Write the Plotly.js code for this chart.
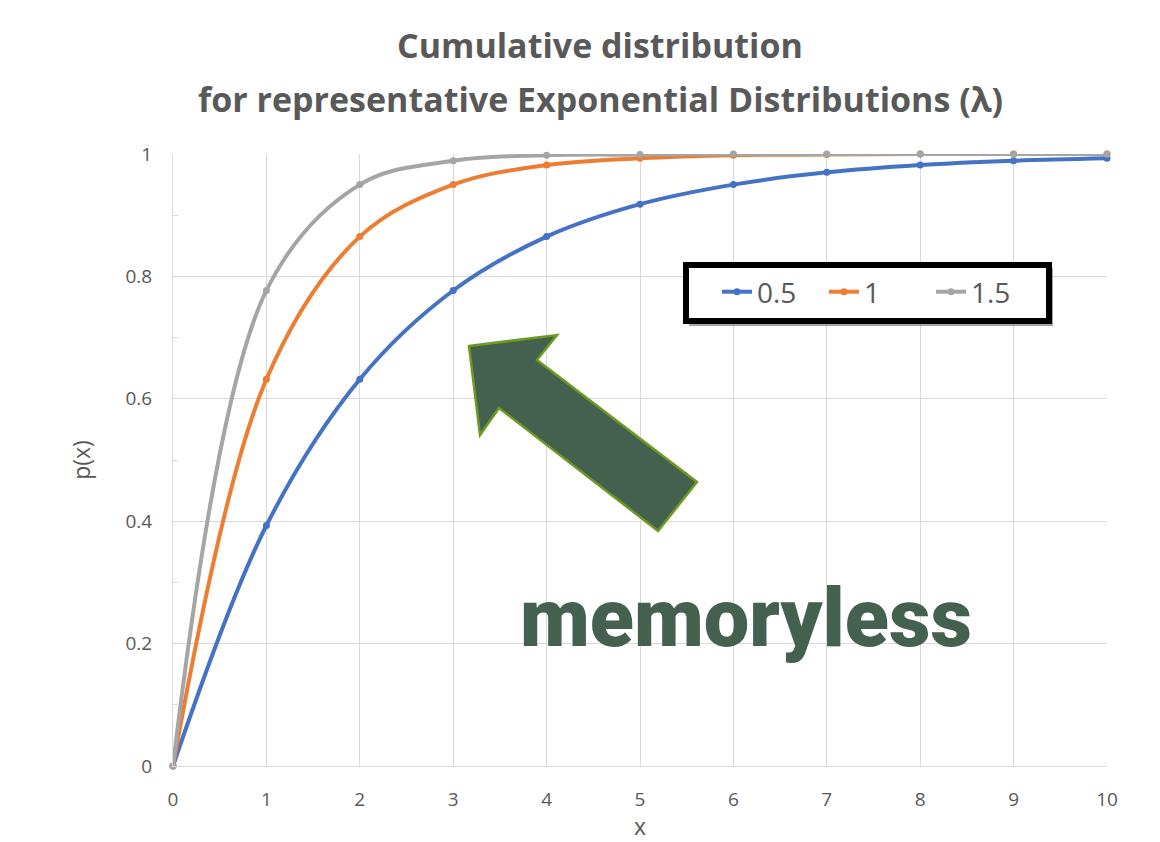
<!DOCTYPE html>
<html>
<head>
<meta charset="utf-8">
<script src="https://cdn.plot.ly/plotly-3.0.1.min.js"></script>
<style>html,body{margin:0;padding:0;background:#fff;}#chart{width:1160px;height:842px;}</style>
</head>
<body>
<div id="chart"></div>
<script>
const xValues = [0, 1, 2, 3, 4, 5, 6, 7, 8, 9, 10];
const seriesNames = ["0.5", "1", "1.5"];
const lambda05 = [0, 0.393, 0.632, 0.777, 0.865, 0.918, 0.950, 0.970, 0.982, 0.989, 0.993];
const lambda1 = [0, 0.632, 0.865, 0.950, 0.982, 0.993, 0.998, 0.999, 1.0, 1.0, 1.0];
const lambda15 = [0, 0.777, 0.950, 0.989, 0.998, 0.999, 1.0, 1.0, 1.0, 1.0, 1.0];
const seriesColors = ["#4472C4", "#ED7D31", "#A5A5A5"];
const xTicks = [0, 1, 2, 3, 4, 5, 6, 7, 8, 9, 10];
const yTicks = [0, 0.2, 0.4, 0.6, 0.8, 1];
const yTickLabels = ["0", "0.2", "0.4", "0.6", "0.8", "1"];
const titleLines = ["Cumulative distribution", "for representative Exponential Distributions (λ)"];

const series = [lambda05, lambda1, lambda15];
const traces = series.map((ys, i) => ({
  x: xValues, y: ys, name: seriesNames[i], type: 'scatter', mode: 'lines+markers',
  line: {color: seriesColors[i], width: 4, shape: 'spline', smoothing: 1},
  marker: {color: seriesColors[i], size: 7},
  cliponaxis: false
}));

// plot area in pixels: left 173, right 1107, top 154, bottom 766
const W = 1160, H = 842, L = 173, R = 1107, T = 154, B = 766;
const px = v => (v - L) / (R - L);
const py = v => (B - v) / (B - T);

// arrow outline
const arrowPix = [[469,346],[557,335],[537,360],[697,482],[658,531],[499,408],[480,435]];
const arrowPath = 'M' + arrowPix.map(p => px(p[0]).toFixed(4) + ',' + py(p[1]).toFixed(4)).join(' L') + ' Z';

const layout = {
  width: W, height: H,
  margin: {l: L, r: W - R, t: T, b: H - B},
  paper_bgcolor: '#fff', plot_bgcolor: '#fff',
  showlegend: true,
  font: {family: 'Open Sans', color: '#595959'},
  xaxis: {
    range: [0, 10], tickvals: xTicks, ticktext: xTicks.map(String),
    showgrid: true, gridcolor: '#D9D9D9', gridwidth: 1,
    zeroline: false, showline: true, linecolor: '#D9D9D9', linewidth: 1,
    ticks: '', tickfont: {size: 19, color: '#595959'}, ticklabelstandoff: 16,
    title: {text: 'x', font: {size: 23, color: '#595959'}, standoff: 12},
    fixedrange: true
  },
  yaxis: {
    range: [0, 1], tickvals: yTicks, ticktext: yTickLabels,
    showgrid: true, gridcolor: '#D9D9D9', gridwidth: 1,
    zeroline: false, showline: true, linecolor: '#D9D9D9', linewidth: 1,
    ticks: 'inside', ticklen: 5, tickcolor: '#D9D9D9',
    minor: {dtick: 0.1, ticks: 'inside', ticklen: 5, tickcolor: '#D9D9D9', showgrid: false},
    tickfont: {size: 19, color: '#595959'}, ticklabelstandoff: 16,
    title: {text: 'p(x)', font: {size: 23, color: '#595959'}, standoff: 28},
    fixedrange: true
  },
  legend: {
    orientation: 'h', x: px(717), y: py(292), xanchor: 'left', yanchor: 'middle',
    bgcolor: 'rgba(0,0,0,0)', borderwidth: 0, entrywidth: 62,
    font: {size: 28, color: '#595959'}
  },
  shapes: [
    {type: 'path', path: arrowPath, xref: 'paper', yref: 'paper',
     fillcolor: '#44604F', line: {color: '#6E9A22', width: 2.5}, layer: 'above'},
    {type: 'rect', xref: 'paper', yref: 'paper', x0: px(689), x1: px(1053), y0: py(268), y1: py(326),
     fillcolor: 'rgba(0,0,0,0.35)', line: {width: 0}, layer: 'above'},
    {type: 'rect', xref: 'paper', yref: 'paper', x0: px(686), x1: px(1049), y0: py(265), y1: py(321),
     fillcolor: '#ffffff', line: {color: '#000000', width: 6}, layer: 'above'}
  ],
  annotations: [
    {text: '<b>' + titleLines[0] + '</b>', xref: 'paper', yref: 'paper', x: px(600), y: py(45),
     xanchor: 'center', yanchor: 'middle', showarrow: false,
     font: {family: 'Open Sans', size: 34, color: '#595959'}},
    {text: '<b>' + titleLines[1] + '</b>', xref: 'paper', yref: 'paper', x: px(600), y: py(99),
     xanchor: 'center', yanchor: 'middle', showarrow: false,
     font: {family: 'Open Sans', size: 34, color: '#595959'}},
    {text: 'memoryless', x: px(746), y: py(618), xref: 'paper', yref: 'paper', showarrow: false,
     xanchor: 'center', yanchor: 'middle',
     font: {family: 'Roboto', size: 81, color: '#44604F', weight: 900}}
  ]
};

Plotly.newPlot('chart', traces, layout, {displayModeBar: false, staticPlot: true});
</script>
</body>
</html>
